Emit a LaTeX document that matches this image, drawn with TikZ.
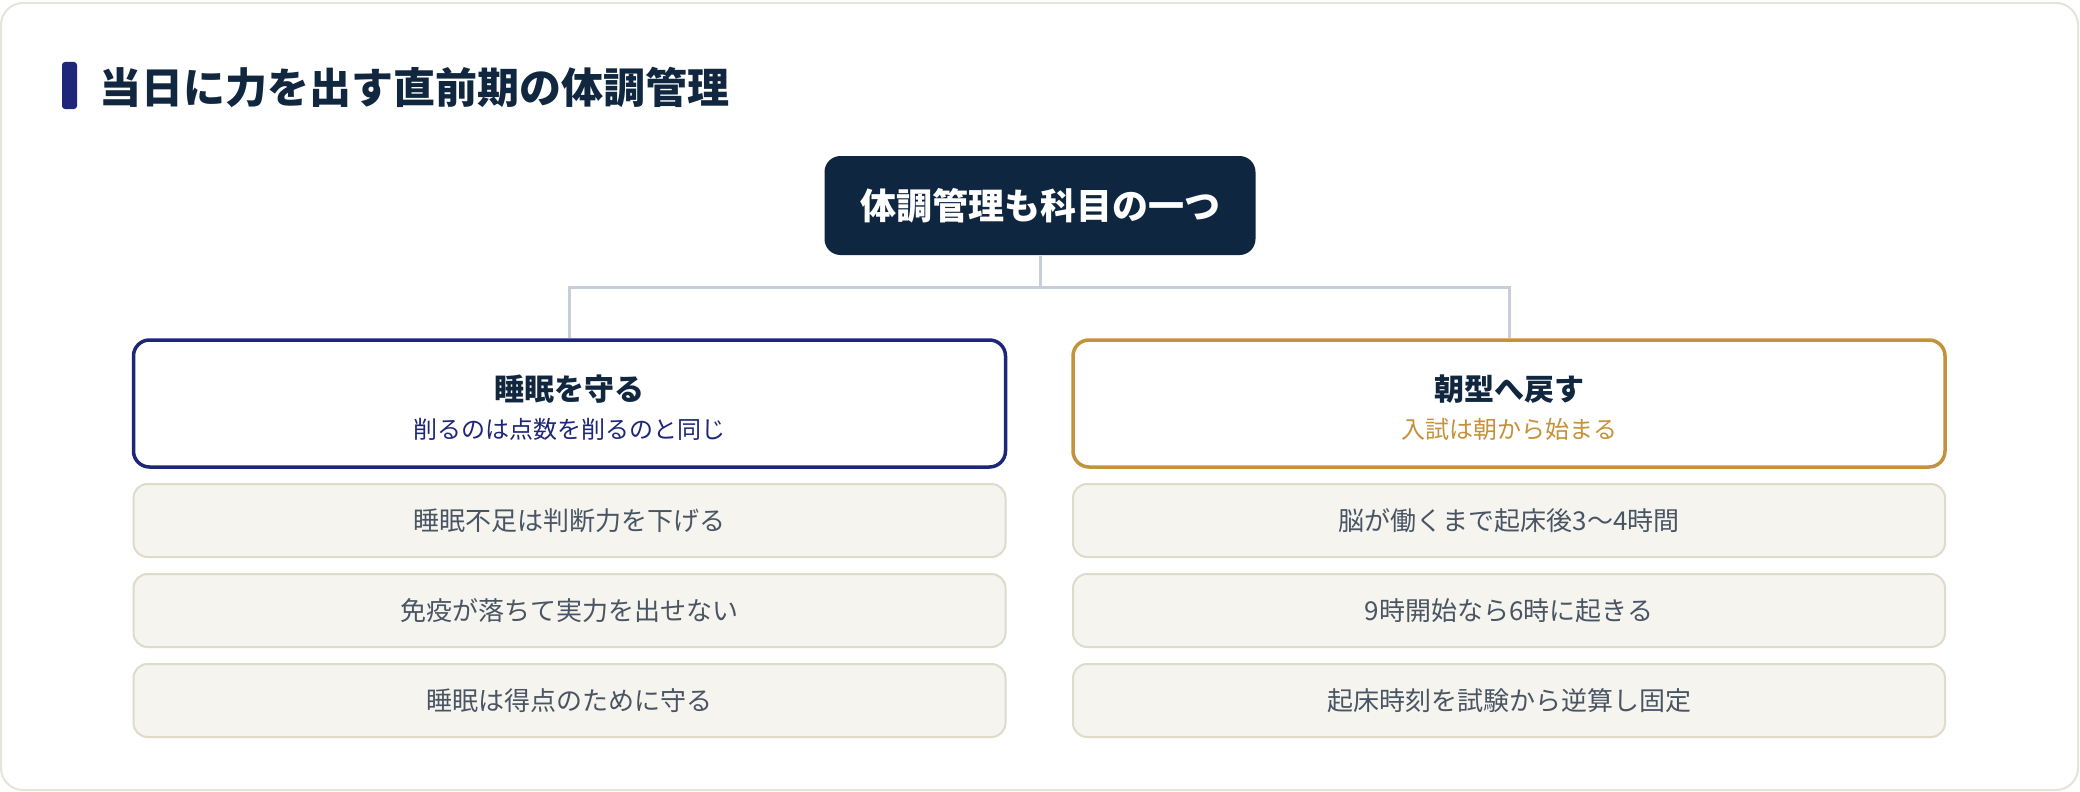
\documentclass[tikz,border=0pt]{standalone}
\usepackage{fontspec}
\setmainfont{Noto Sans CJK JP}
\usetikzlibrary{positioning}

\definecolor{frameline}{RGB}{230,228,216}
\definecolor{titlebar}{RGB}{31,39,122}
\definecolor{inkdark}{RGB}{16,39,63}
\definecolor{rootfill}{RGB}{15,38,64}
\definecolor{linkgray}{RGB}{200,206,216}
\definecolor{sleepnavy}{RGB}{30,38,120}
\definecolor{morninggold}{RGB}{196,146,58}
\definecolor{itemfill}{RGB}{245,244,239}
\definecolor{itemline}{RGB}{222,219,203}
\definecolor{itemtext}{RGB}{74,85,99}

\tikzset{
  every picture/.style={line width=1pt},
  rootbox/.style={fill=rootfill, rounded corners=16, minimum width=431, minimum height=99, text=white, font=\fontsize{36}{40}\selectfont\bfseries},
  headbox/.style={fill=white, draw=#1, line width=3.5, rounded corners=16, minimum width=872, minimum height=127},
  headtitle/.style={text=inkdark, font=\fontsize{30}{34}\selectfont\bfseries, inner sep=0},
  headsub/.style={text=#1, font=\fontsize{24}{28}\selectfont, inner sep=0},
  itembox/.style={fill=itemfill, draw=itemline, line width=2, rounded corners=14, minimum width=872, minimum height=73, text=itemtext, font=\fontsize{26}{30}\selectfont},
  link/.style={draw=linkgray, line width=3}
}

\begin{document}
\begin{tikzpicture}[x=1pt,y=1pt,yscale=-1,xscale=1]
\useasboundingbox (0,0) rectangle (2080,792);

%Outer frame
\draw [draw=frameline, fill=white, line width=2, rounded corners=22] (1,3) rectangle (2078,790);

%Title
\fill [titlebar, rounded corners=3] (62,62) rectangle (77,109);
\node (title) [anchor=center, text=inkdark, inner sep=0, font=\fontsize{42}{46}\selectfont\bfseries] at (414,87) {当日に力を出す直前期の体調管理};

%Root
\node (root) [rootbox] at (1040,205.5) {体調管理も科目の一つ};

%Headers
\node (sleep) [headbox=sleepnavy] at (569.5,403.5) {};
\node (morning) [headbox=morninggold] at (1509,403.5) {};
\node (sleepT) [headtitle] at (569.5,389) {睡眠を守る};
\node (sleepS) [headsub=sleepnavy] at (569.5,429) {削るのは点数を削るのと同じ};
\node (morningT) [headtitle] at (1509,389) {朝型へ戻す};
\node (morningS) [headsub=morninggold] at (1509,429) {入試は朝から始まる};

%Connectors
\coordinate (fork) at (1040,287);
\draw [link] (root.south) -- (fork);
\draw [link] (fork) -| (sleep.north);
\draw [link] (fork) -| (morning.north);

%Items left
\node (sleepA) [itembox] at (569.5,520.5) {睡眠不足は判断力を下げる};
\node (sleepB) [itembox] at (569.5,610.5) {免疫が落ちて実力を出せない};
\node (sleepC) [itembox] at (569.5,700.5) {睡眠は得点のために守る};

%Items right
\node (morningA) [itembox] at (1509,520.5) {脳が働くまで起床後3〜4時間};
\node (morningB) [itembox] at (1509,610.5) {9時開始なら6時に起きる};
\node (morningC) [itembox] at (1509,700.5) {起床時刻を試験から逆算し固定};

\end{tikzpicture}
\end{document}
